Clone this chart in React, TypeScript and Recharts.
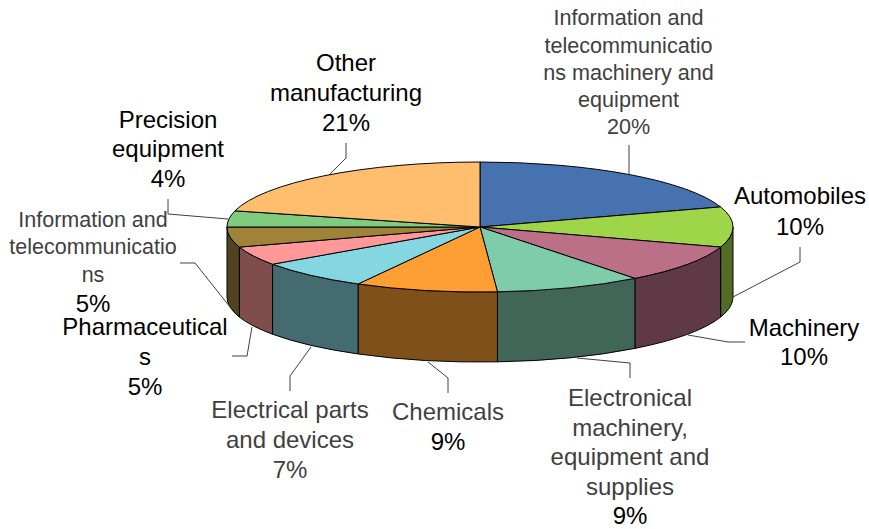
import { Pie, PieChart } from "recharts";

const names = [
  "Information and telecommunications machinery and equipment",
  "Automobiles",
  "Machinery",
  "Electronical machinery, equipment and supplies",
  "Chemicals",
  "Electrical parts and devices",
  "Pharmaceuticals",
  "Information and telecommunications",
  "Precision equipment",
  "Other manufacturing",
];
const shares = [20, 10, 9.51, 9.39, 9.1, 7.3, 4.7, 5, 4, 21];
const topColors = ["#4672B0", "#9FD548", "#BC7088", "#7FCCAB", "#FF9F33", "#84D6E0", "#FF9999", "#9E8338", "#7FCC7F", "#FFBE6E"];
const wallColors = ["#2F4C76", "#526B25", "#5F3A46", "#416658", "#80501A", "#436B70", "#804D4D", "#50431D", "#40663F", "#805F37"];

// wrapped the same way as the original, including the broken words
const wrappedNames = [
  ["Information and", "telecommunicatio", "ns machinery and", "equipment"],
  ["Automobiles"],
  ["Machinery"],
  ["Electronical", "machinery,", "equipment and", "supplies"],
  ["Chemicals"],
  ["Electrical parts", "and devices"],
  ["Pharmaceutical", "s"],
  ["Information and", "telecommunicatio", "ns"],
  ["Precision", "equipment"],
  ["Other", "manufacturing"],
];

const GREY = "#404040";
const BLACK = "#000000";

type LabelSpot = {
  x: number;
  baselines: number[];
  size: number;
  nameColor: string;
  pctColor: string;
  pctSize?: number;
  leader: string;
};

const labelSpots: LabelSpot[] = [
  { x: 628.5, baselines: [25, 53, 80, 107, 134], size: 21.6, nameColor: GREY, pctColor: GREY, leader: "629,145 629,174" },
  { x: 800, baselines: [204, 235], size: 24, nameColor: BLACK, pctColor: BLACK, leader: "800,247 800,262 733,297" },
  { x: 804, baselines: [336, 365], size: 24, nameColor: BLACK, pctColor: BLACK, leader: "745,342 728,342 688,335" },
  { x: 630, baselines: [406, 436, 465, 495, 524], size: 24, nameColor: GREY, pctColor: BLACK, leader: "630,378 630,363 577,358" },
  { x: 448, baselines: [420, 450], size: 24, nameColor: GREY, pctColor: BLACK, leader: "448,393 448,378 428,362" },
  { x: 290, baselines: [418, 448, 478], size: 24, nameColor: GREY, pctColor: GREY, leader: "290,391 290,376 311,347" },
  { x: 145, baselines: [335, 365, 395], size: 24, nameColor: BLACK, pctColor: BLACK, leader: "232,356 247,356 252,327" },
  { x: 93, baselines: [227, 254, 282, 312], size: 21.5, nameColor: GREY, pctColor: BLACK, pctSize: 24, leader: "180,263 195,263 230,307" },
  { x: 168, baselines: [128, 157, 187], size: 24, nameColor: BLACK, pctColor: BLACK, leader: "168,199 168,214 228,219" },
  { x: 346, baselines: [71, 101, 131], size: 24, nameColor: BLACK, pctColor: BLACK, leader: "346,143 346,158 329,175" },
];

const tableRows = names.map((name, i) => ({ name, value: shares[i] }));

const TILT = 65 / 253;
const DEPTH = 70;

function renderSlice(props: any) {
  const { cx, cy, outerRadius, startAngle, endAngle, index } = props;
  const rx = outerRadius;
  const ry = outerRadius * TILT;
  const px = (a: number) => cx + rx * Math.cos((a * Math.PI) / 180);
  const py = (a: number) => cy - ry * Math.sin((a * Math.PI) / 180);
  const large = Math.abs(startAngle - endAngle) > 180 ? 1 : 0;
  const top = `M${cx},${cy} L${px(startAngle)},${py(startAngle)} A${rx},${ry} 0 ${large} 1 ${px(endAngle)},${py(endAngle)} Z`;

  // the side wall only shows on the front half
  const wallStart = Math.min(startAngle, 0);
  const wallEnd = Math.max(endAngle, -180);
  const hasWall = wallStart > wallEnd;
  const wall = hasWall
    ? `M${px(wallStart)},${py(wallStart)} A${rx},${ry} 0 0 1 ${px(wallEnd)},${py(wallEnd)} L${px(wallEnd)},${py(wallEnd) + DEPTH} A${rx},${ry} 0 0 0 ${px(wallStart)},${py(wallStart) + DEPTH} Z`
    : "";

  return (
    <g>
      {hasWall && <path d={wall} fill={wallColors[index]} stroke="#000" strokeWidth={1} />}
      <path d={top} fill={topColors[index]} stroke="#000" strokeWidth={1} />
    </g>
  );
}

function renderLabel(props: any) {
  const { index, percent } = props;
  const spot = labelSpots[index];
  const lines = wrappedNames[index];
  return (
    <g key={index} fontFamily="'Liberation Sans', Arial, sans-serif" textAnchor="middle">
      <polyline points={spot.leader} fill="none" stroke="#404040" strokeWidth={1} />
      {lines.map((line, i) => (
        <text key={line} x={spot.x} y={spot.baselines[i]} fontSize={spot.size} fill={spot.nameColor}>
          {line}
        </text>
      ))}
      <text x={spot.x} y={spot.baselines[lines.length]} fontSize={spot.pctSize ?? spot.size} fill={spot.pctColor}>
        {`${Math.round(percent * 100)}%`}
      </text>
    </g>
  );
}

export default function App() {
  return (
    <div style={{ position: "absolute", left: 0, top: 0, width: 869, height: 529, background: "#fff" }}>
      <PieChart width={869} height={529} margin={{ top: 0, right: 0, bottom: 0, left: 0 }}>
        <Pie
          data={tableRows}
          dataKey="value"
          nameKey="name"
          cx={480}
          cy={227}
          innerRadius={0}
          outerRadius={253}
          startAngle={90}
          endAngle={-270}
          paddingAngle={0}
          isAnimationActive={false}
          shape={renderSlice}
          label={renderLabel}
          labelLine={false}
        />
      </PieChart>
    </div>
  );
}
